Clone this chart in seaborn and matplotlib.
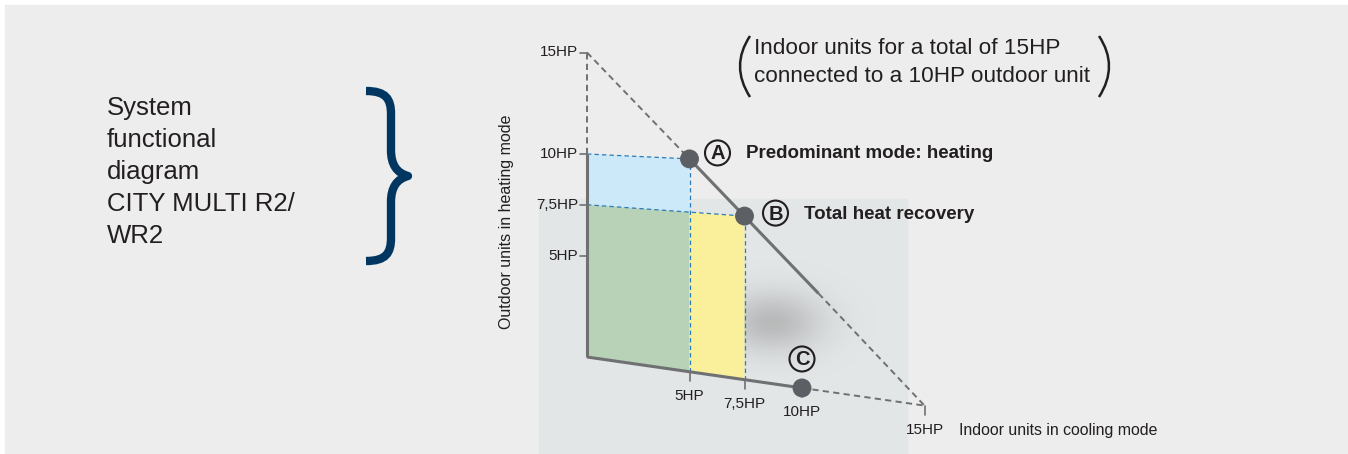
import numpy as np
import matplotlib
matplotlib.use("Agg")
import matplotlib.pyplot as plt
from matplotlib.patches import Polygon, Rectangle, Circle, PathPatch
from matplotlib.path import Path
import seaborn as sns

# values in HP (cooling, heating)
tick_values = [5, 7.5, 10, 15]
tick_labels = ["5HP", "7,5HP", "10HP", "15HP"]
total_hp = 15
outdoor_hp = 10
point_names = ["A", "B", "C"]
point_cool = [5, 7.5, 10]
point_heat = [10, 7.5, 0]
point_text = ["Predominant mode: heating", "Total heat recovery", ""]
solid_end_cool = 10.7
left_lines = ["System", "functional", "diagram", "CITY MULTI R2/", "WR2"]
note_lines = ["Indoor units for a total of 15HP", "connected to a 10HP outdoor unit"]

sns.set_style("white")
plt.rcParams['font.family'] = ['Liberation Sans', 'DejaVu Sans']

TXT = "#231f20"
GRAY = "#6f7072"
BLUE = "#2b7bb9"
DOT = "#5c6064"


def proj(c, h):
    # pseudo-perspective: cooling axis recedes, heating axis vertical
    c = np.asarray(c, float)
    h = np.asarray(h, float)
    X = 587 + 19.5 * c + 0.2 * c ** 2
    Y = 357 - 20.3 * h + (0.144 - 0.0096 * h) * (X - 587)
    return X, Y


fig = plt.figure(figsize=(13.48, 4.54), dpi=100)
fig.patch.set_facecolor("white")
ax = fig.add_axes([0, 0, 1, 1])

# backgrounds
ax.add_patch(Rectangle((5, 5), 1343, 449, color="#ecedec", zorder=0))
ax.add_patch(Rectangle((539, 199), 368, 255, color="#e3e6e7", zorder=0.5))

# soft shadow
gx, gy = np.meshgrid(np.linspace(660, 900, 240), np.linspace(240, 420, 180))
alpha = 0.36 * np.exp(-((gx - 772) / 50) ** 2 - ((gy - 322) / 30) ** 2)
img = np.zeros(gx.shape + (4,))
img[..., :3] = 0.42
img[..., 3] = alpha
ax.imshow(img, extent=(660, 900, 420, 240), zorder=0.8, interpolation="bilinear")
ax.set_xlim(0, 1348)
ax.set_ylim(454, 0)
ax.set_aspect("auto")
ax.axis("off")

# coloured areas
pA_c, pB_c = point_cool[0], point_cool[1]
pA_h, pB_h = point_heat[0], point_heat[1]
areas = [
    ([0, pA_c, pA_c, 0], [pB_h, pB_h, pA_h, pA_h], "#cce9f9"),
    ([0, pA_c, pA_c, 0], [0, 0, pB_h, pB_h], "#b8d2b7"),
    ([pA_c, pB_c, pB_c, pA_c], [0, 0, pB_h, pB_h], "#faf09b"),
]
for cs, hs, col in areas:
    X, Y = proj(cs, hs)
    ax.add_patch(Polygon(np.column_stack([X, Y]), closed=True, color=col, lw=0, zorder=1))

# blue dashed guide lines
for cs, hs in [([0, pA_c], [pA_h, pA_h]), ([0, pB_c], [pB_h, pB_h]),
               ([pA_c, pA_c], [0, pA_h]), ([pB_c, pB_c], [0, pB_h])]:
    X, Y = proj(cs, hs)
    ax.plot(X, Y, color=BLUE, lw=0.9, dashes=(3.5, 2.5), zorder=2)

# gray axes and diagonal
solid = [([0, 0], [0, outdoor_hp]), ([0, outdoor_hp], [0, 0]),
         ([pA_c, solid_end_cool], [pA_h, total_hp - solid_end_cool])]
dashed = [([0, 0], [outdoor_hp, total_hp]), ([outdoor_hp, total_hp], [0, 0]),
          ([0, pA_c], [total_hp, pA_h]), ([solid_end_cool, total_hp], [total_hp - solid_end_cool, 0])]
for cs, hs in solid:
    X, Y = proj(cs, hs)
    ax.plot(X, Y, color=GRAY, lw=2.2, solid_capstyle="butt", zorder=3)
for cs, hs in dashed:
    X, Y = proj(cs, hs)
    ax.plot(X, Y, color=GRAY, lw=1.4, dashes=(3.2, 2.2), zorder=3)

# ticks
for v, lab in zip(tick_values, tick_labels):
    X, Y = proj(0, v)
    ax.plot([X - 7, X], [Y, Y], color=GRAY, lw=1.2, zorder=3)
    ax.text(X - 9, Y, lab, ha="right", va="center", fontsize=11, color=TXT)
    X, Y = proj(v, 0)
    ax.plot([X, X], [Y, Y + 9], color=GRAY, lw=1.2, zorder=3)
    ax.text(X, Y + 24, lab, ha="center", va="center", fontsize=11, color=TXT)

ax.text(506, 222, "Outdoor units in heating mode", rotation=90, ha="center", va="center",
        fontsize=11.5, color=TXT)
ax.text(959, 431, "Indoor units in cooling mode", ha="left", va="center", fontsize=11.4, color=TXT)

# operating points
X, Y = proj(point_cool, point_heat)
sns.scatterplot(x=X, y=Y, s=185, color=DOT, edgecolor="none", zorder=4, ax=ax, legend=False)
offsets = [(28, -6), (31, -3), (0, -29)]
for name, txt, x, y, (dx, dy) in zip(point_names, point_text, X, Y, offsets):
    cx, cy = x + dx, y + dy
    ax.add_patch(Circle((cx, cy), 12.5, fill=False, ec=TXT, lw=1.5, zorder=5))
    ax.text(cx, cy + 1, name, ha="center", va="center", fontsize=14.5, fontweight="bold", color=TXT, zorder=5)
    if txt:
        ax.text(cx + 29, cy + 1, txt, ha="left", va="center", fontsize=13.5, fontweight="bold", color=TXT)

# note in parentheses
ax.text(754, 49, note_lines[0], ha="left", va="center", fontsize=16.2, color=TXT)
ax.text(754, 77, note_lines[1], ha="left", va="center", fontsize=16.2, color=TXT)
for p in [[(750, 36), (730, 66), (750, 97)], [(1099, 36), (1119, 66), (1099, 97)]]:
    ax.add_patch(PathPatch(Path(p, [Path.MOVETO, Path.CURVE3, Path.CURVE3]),
                           fill=False, ec=TXT, lw=1.8, zorder=5))

# left title and brace
for i, line in enumerate(left_lines):
    ax.text(107, 115 + 32 * i, line, ha="left", va="baseline", fontsize=18.5, color=TXT)

brace = [(366, 91), (386, 91), (391, 99), (391, 114), (391, 150),
         (391, 165), (397, 173), (408, 176),
         (397, 179), (391, 187), (391, 202), (391, 238),
         (391, 253), (386, 261), (366, 261)]
codes = [Path.MOVETO, Path.CURVE4, Path.CURVE4, Path.CURVE4, Path.LINETO,
         Path.CURVE4, Path.CURVE4, Path.CURVE4,
         Path.CURVE4, Path.CURVE4, Path.CURVE4, Path.LINETO,
         Path.CURVE4, Path.CURVE4, Path.CURVE4]
ax.add_patch(PathPatch(Path(brace, codes), fill=False, ec="#003660", lw=6,
                       capstyle="butt", joinstyle="round", zorder=5))

fig.savefig("out.png", dpi=100, facecolor=fig.get_facecolor())
